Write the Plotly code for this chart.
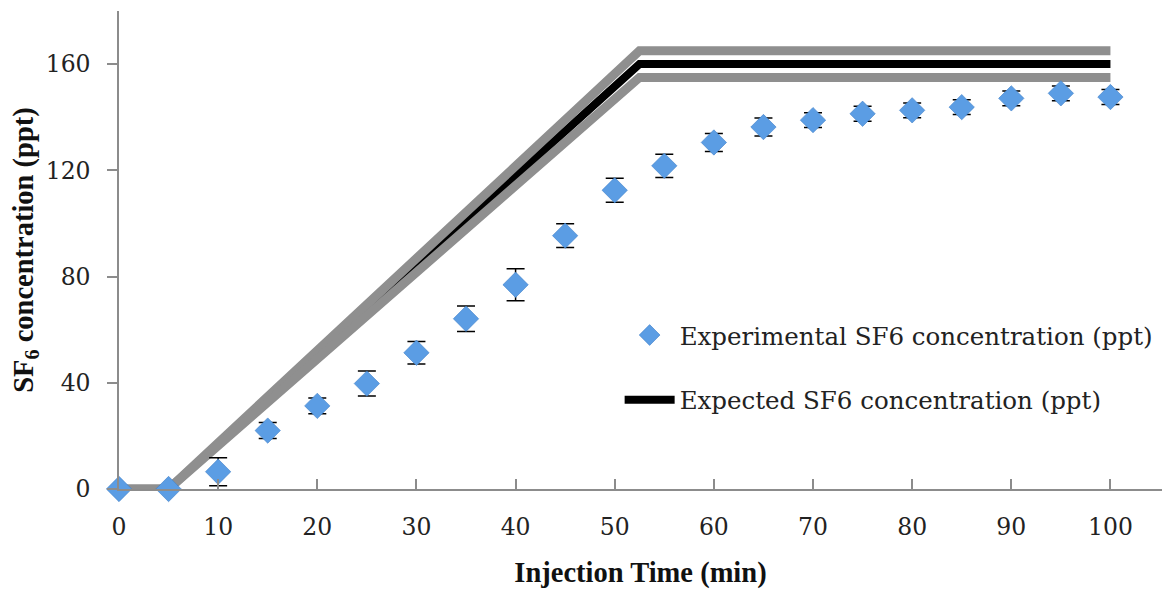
import plotly.graph_objects as go

# ---- data ----
time_min = [0, 5, 10, 15, 20, 25, 30, 35, 40, 45, 50, 55, 60, 65, 70, 75, 80, 85, 90, 95, 100]
experimental = [0, 0, 6.5, 22, 31.3, 39.7, 51.3, 64.1, 76.9, 95.4, 112.5, 121.7, 130.5,
                136.3, 138.9, 141.3, 142.6, 143.8, 147.1, 149.0, 147.6]
exp_error = [1, 1, 5.3, 3, 3, 4.7, 4.2, 4.8, 6, 4.5, 4.5, 4.4, 3.4, 3.4, 2.8, 2.8, 2.8,
             2.8, 2.8, 2.8, 2.8]

expected_time = [0, 5, 52.5, 100]
expected = [0, 0, 160, 160]
expected_upper = [0, 0, 165, 165]
expected_lower = [0, 0, 155, 155]

x_ticks = [0, 10, 20, 30, 40, 50, 60, 70, 80, 90, 100]
y_ticks = [0, 40, 80, 120, 160]

TICK_FONT = dict(family="DejaVu Serif", size=23.5, color="#222222")
TITLE_FONT = dict(family="Liberation Serif", size=28.5, color="#111111")
AXIS_COLOR = "#8c8c8c"
GRAY = "#8f8f8f"

fig = go.Figure()

fig.add_trace(go.Scatter(
    x=expected_time, y=expected, mode="lines",
    name="Expected SF6 concentration (ppt)",
    line=dict(color="black", width=8),
    legendgroup="b", legendrank=2,
))
fig.add_trace(go.Scatter(
    x=expected_time, y=expected_upper, mode="lines", showlegend=False,
    line=dict(color=GRAY, width=9), hoverinfo="skip",
))
fig.add_trace(go.Scatter(
    x=expected_time, y=expected_lower, mode="lines", showlegend=False,
    line=dict(color=GRAY, width=9), hoverinfo="skip",
))
fig.add_trace(go.Scatter(
    x=time_min, y=experimental, mode="markers",
    name="Experimental SF6 concentration (ppt)",
    marker=dict(symbol="diamond", size=19.5, color="#5b9de4",
                line=dict(color="#3f7fc8", width=0.6)),
    error_y=dict(type="data", array=exp_error, visible=True,
                 color="black", thickness=1.5, width=9),
    cliponaxis=False,
    legendgroup="a", legendrank=1,
))

# the page body adds an 8 px offset, so the figure is sized to fit the window
fig.update_layout(
    width=1164, height=581,
    margin=dict(l=111, r=10, t=3, b=100, autoexpand=False),
    paper_bgcolor="white", plot_bgcolor="white",
    showlegend=True,
    legend=dict(
        x=0.48, y=0.254, xanchor="left", yanchor="middle",
        font=dict(family="DejaVu Serif", size=24.5, color="#222222"),
        bgcolor="rgba(0,0,0,0)", traceorder="grouped", tracegroupgap=30,
        itemwidth=50,
    ),
    xaxis=dict(
        range=[0, 105.2], tickvals=x_ticks, ticks="inside", ticklen=10,
        tickcolor=AXIS_COLOR, tickwidth=1.5,
        showline=True, linecolor=AXIS_COLOR, linewidth=1.5,
        showgrid=False, zeroline=False, tickfont=TICK_FONT,
        ticklabelstandoff=16, automargin=False,
        title=dict(text="<b>Injection Time (min)</b>", font=TITLE_FONT, standoff=28),
    ),
    yaxis=dict(
        range=[0, 180], tickvals=y_ticks, ticks="outside", ticklen=10,
        tickcolor=AXIS_COLOR, tickwidth=1.5,
        showline=True, linecolor=AXIS_COLOR, linewidth=1.5,
        showgrid=False, zeroline=False, tickfont=TICK_FONT,
        ticklabelstandoff=12, automargin=False,
        title=dict(text="<b>SF<sub>6</sub> concentration (ppt)</b>", font=TITLE_FONT, standoff=9),
    ),
)

fig.write_html("out.html")
